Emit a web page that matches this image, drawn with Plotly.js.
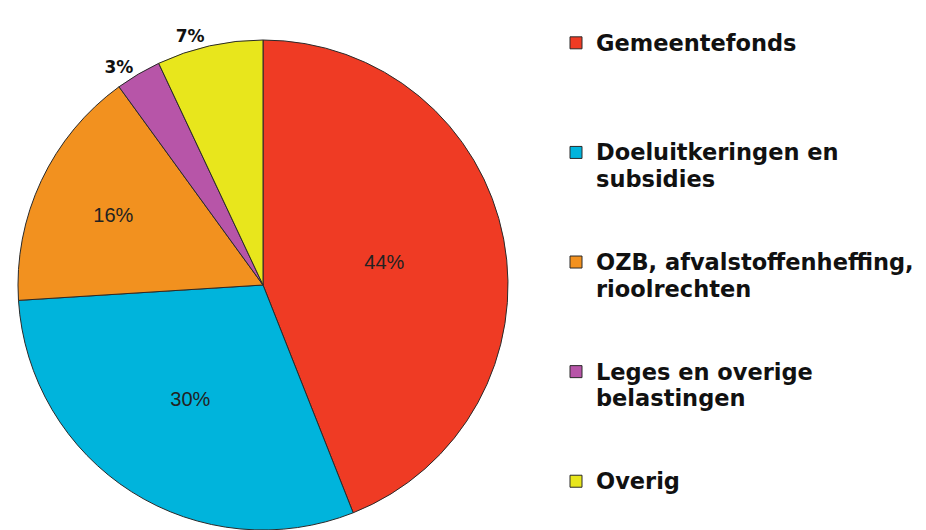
<!DOCTYPE html>
<html>
<head>
<meta charset="utf-8">
<script src="https://cdn.plot.ly/plotly-3.0.1.min.js"></script>
<style>html,body{margin:0;padding:0;background:#fff;}#chart{width:926px;height:530px;}</style>
</head>
<body>
<div id="chart"></div>
<script>
const categories = [
  "Gemeentefonds",
  "Doeluitkeringen en<br>subsidies",
  "OZB, afvalstoffenheffing,<br>rioolrechten",
  "Leges en overige<br>belastingen",
  "Overig"
];
const values = [44, 30, 16, 3, 7];
const colors = ["#EF3B24", "#00B4DC", "#F2911F", "#B755A8", "#E8E61C"];
const textPositions = ["inside", "inside", "inside", "outside", "outside"];

// enlarge legend glyphs and pad entries (except the last) to four lines for spacing
const legendLabels = categories.map((c, i) => {
  const lines = c.split("<br>").map(l => '<span style="font-size:22.5px">' + l + '</span>');
  const pad = i < categories.length - 1 ? Math.max(0, 4 - lines.length) : 0;
  return lines.join("<br>") + "<br> ".repeat(pad);
});

const trace = {
  type: "pie",
  labels: legendLabels,
  values: values,
  sort: false,
  direction: "clockwise",
  rotation: 0,
  marker: { colors: colors, line: { color: "#2a2a2a", width: 1 } },
  textinfo: "percent",
  texttemplate: "%{percent:.0%}",
  textposition: textPositions,
  insidetextorientation: "horizontal",
  insidetextfont: { family: "Liberation Sans, Arial, sans-serif", size: 20, color: "#222" },
  outsidetextfont: { family: "DejaVu Sans, sans-serif", size: 17, color: "#111", weight: "bold" },
  domain: { x: [18/926, 508/926], y: [0, 490/530] },
  hoverinfo: "none"
};

const layout = {
  width: 926, height: 530,
  margin: { l: 0, r: 0, t: 0, b: 0 },
  paper_bgcolor: "#fff",
  showlegend: true,
  legend: {
    x: 556/926, xanchor: "left",
    y: 1 - 23/530, yanchor: "top",
    valign: "top",
    font: { family: "DejaVu Sans, sans-serif", size: 20.5, color: "#111", weight: "bold" },
    bgcolor: "rgba(0,0,0,0)"
  }
};

Plotly.newPlot("chart", [trace], layout, { staticPlot: true });
</script>
</body>
</html>
